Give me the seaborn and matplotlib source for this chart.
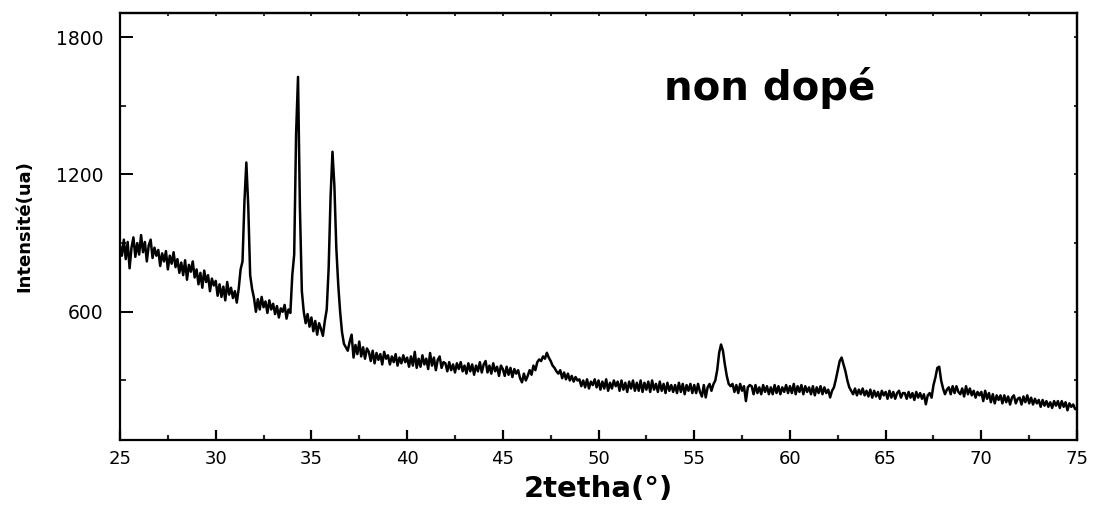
import numpy as np
import pandas as pd
import matplotlib
matplotlib.use("Agg")
import matplotlib.pyplot as plt
from matplotlib.ticker import MultipleLocator
import seaborn as sns

# 2-theta sampling grid (0.1 degree step, 25..75)
two_theta = np.round(np.linspace(25.0, 75.0, 501), 1)

# Intensities, one row per degree (x.0 ... x.9)
intensity = [
    890, 845, 915, 830, 905, 790, 880, 925, 840, 900,   # 25
    850, 935, 860, 905, 820, 890, 915, 835, 880, 845,   # 26
    870, 800, 855, 820, 865, 785, 845, 810, 860, 795,   # 27
    830, 770, 815, 760, 825, 740, 805, 775, 820, 750,   # 28
    785, 720, 770, 705, 780, 730, 760, 690, 745, 715,   # 29
    735, 670, 720, 665, 710, 650, 730, 675, 705, 660,   # 30
    690, 640, 700, 785, 820, 1080, 1252, 1060, 760, 700,  # 31
    660, 600, 655, 610, 665, 620, 645, 595, 650, 610,   # 32
    635, 590, 625, 575, 615, 600, 630, 570, 610, 595,   # 33
    760, 850, 1380, 1626, 1050, 690, 600, 550, 590, 535,  # 34
    575, 515, 560, 500, 550, 525, 495, 560, 610, 790,   # 35
    1100, 1299, 1150, 880, 720, 600, 510, 460, 445, 430,  # 36
    470, 500, 400, 455, 415, 470, 405, 445, 395, 440,   # 37
    425, 385, 430, 375, 420, 390, 415, 370, 425, 395,   # 38
    410, 370, 405, 380, 415, 365, 400, 375, 410, 380,   # 39
    400, 360, 405, 365, 425, 355, 395, 360, 410, 370,   # 40
    395, 350, 420, 365, 400, 345, 390, 405, 355, 380,   # 41
    375, 340, 380, 345, 370, 335, 375, 350, 380, 340,   # 42
    365, 330, 375, 340, 370, 325, 365, 340, 380, 335,   # 43
    370, 385, 335, 365, 330, 375, 340, 360, 320, 365,   # 44
    350, 320, 360, 325, 355, 315, 350, 330, 345, 310,   # 45
    292, 330, 300, 320, 345, 325, 365, 345, 380, 392,   # 46
    385, 405, 395, 421, 400, 385, 365, 355, 340, 330,   # 47
    345, 310, 335, 305, 330, 300, 320, 295, 315, 300,   # 48
    305, 275, 300, 270, 305, 265, 295, 280, 305, 270,   # 49
    300, 260, 295, 265, 305, 255, 290, 265, 300, 275,   # 50
    295, 255, 300, 260, 290, 250, 295, 265, 300, 255,   # 51
    290, 255, 300, 250, 290, 260, 295, 250, 300, 260,   # 52
    285, 250, 295, 255, 285, 245, 290, 255, 280, 250,   # 53
    280, 245, 290, 250, 285, 240, 280, 255, 285, 245,   # 54
    280, 245, 285, 250, 230, 280, 226, 270, 285, 255,   # 55
    283, 300, 345, 420, 457, 430, 370, 320, 285, 275,   # 56
    285, 250, 280, 245, 285, 255, 275, 210, 270, 280,   # 57
    275, 240, 280, 245, 270, 240, 280, 250, 275, 240,   # 58
    270, 240, 280, 245, 275, 240, 270, 250, 280, 245,   # 59
    275, 245, 285, 240, 275, 250, 280, 240, 275, 250,   # 60
    270, 240, 275, 235, 270, 245, 275, 240, 270, 245,   # 61
    260, 226, 255, 270, 305, 345, 385, 400, 370, 340,   # 62
    300, 270, 255, 240, 265, 235, 260, 240, 265, 235,   # 63
    255, 230, 260, 225, 255, 230, 250, 220, 255, 235,   # 64
    250, 220, 255, 225, 250, 220, 245, 255, 225, 245,   # 65
    245, 220, 250, 225, 245, 215, 250, 225, 245, 220,   # 66
    240, 196, 235, 245, 225, 280, 313, 355, 360, 300,   # 67
    265, 240, 260, 270, 240, 275, 245, 275, 250, 240,   # 68
    265, 230, 275, 240, 265, 235, 255, 225, 250, 235,   # 69
    250, 210, 255, 220, 245, 205, 240, 200, 235, 215,   # 70
    235, 200, 235, 205, 230, 195, 225, 235, 200, 220,   # 71
    225, 195, 230, 205, 235, 200, 225, 195, 220, 200,   # 72
    215, 185, 215, 190, 210, 185, 205, 180, 210, 190,   # 73
    210, 180, 210, 185, 205, 170, 200, 185, 195, 175,   # 74
    175,                                                 # 75
]

x_ticks = [25, 30, 35, 40, 45, 50, 55, 60, 65, 70, 75]
y_ticks = [600, 1200, 1800]
x_label = "2tetha(°)"
y_label = "Intensité(ua)"
annotation = "non dopé"

df = pd.DataFrame({"two_theta": two_theta, "intensity": intensity})

sns.set_theme(style="ticks")
plt.rcParams["font.family"] = ["DejaVu Sans"]

fig = plt.figure(figsize=(10.94, 5.05), dpi=100)
ax = fig.add_axes([0.1097, 0.1287, 0.8748, 0.8456])

sns.lineplot(data=df, x="two_theta", y="intensity", ax=ax, color="black",
             linewidth=1.8, estimator=None, sort=False)

ax.set_xlim(25, 75)
ax.set_ylim(40, 1905)
ax.set_xticks(x_ticks)
ax.set_yticks(y_ticks)
ax.xaxis.set_minor_locator(MultipleLocator(2.5))
ax.yaxis.set_minor_locator(MultipleLocator(300))

for side in ["left", "right", "top", "bottom"]:
    ax.spines[side].set_visible(True)
    ax.spines[side].set_color("black")
    ax.spines[side].set_linewidth(1.6)

ax.tick_params(axis="x", which="major", direction="in", length=7, width=1.6,
               labelsize=13, pad=7, colors="black", bottom=True, top=False)
ax.tick_params(axis="x", which="minor", direction="in", length=3.5, width=1.6,
               bottom=True, top=False)
ax.tick_params(axis="y", which="major", direction="in", length=9, width=1.4,
               labelsize=13.5, pad=12, colors="black", left=True, right=False)
ax.tick_params(axis="y", which="minor", direction="in", length=4, width=1.4,
               left=True, right=False)

# small mirrored ticks on top and right
secx = ax.secondary_xaxis("top")
secx.set_xticks(x_ticks)
secx.xaxis.set_minor_locator(MultipleLocator(2.5))
secx.tick_params(which="both", direction="in", length=2, width=1.2,
                 labeltop=False, colors="black")
secx.spines["top"].set_linewidth(1.6)
secy = ax.secondary_yaxis("right")
secy.set_yticks(y_ticks)
secy.yaxis.set_minor_locator(MultipleLocator(300))
secy.tick_params(which="both", direction="in", length=2, width=1.2,
                 labelright=False, colors="black")
secy.spines["right"].set_linewidth(1.6)

ax.set_xlabel(x_label, fontsize=21, fontweight="bold", labelpad=5, color="black")
ax.set_ylabel(y_label, fontsize=13, fontweight="bold", labelpad=16, color="black")

ax.text(0.679, 0.825, annotation, transform=ax.transAxes, fontsize=29,
        fontweight="bold", ha="center", va="center", color="black")

ax.grid(False)
fig.savefig("out.png", dpi=100, facecolor="white")
